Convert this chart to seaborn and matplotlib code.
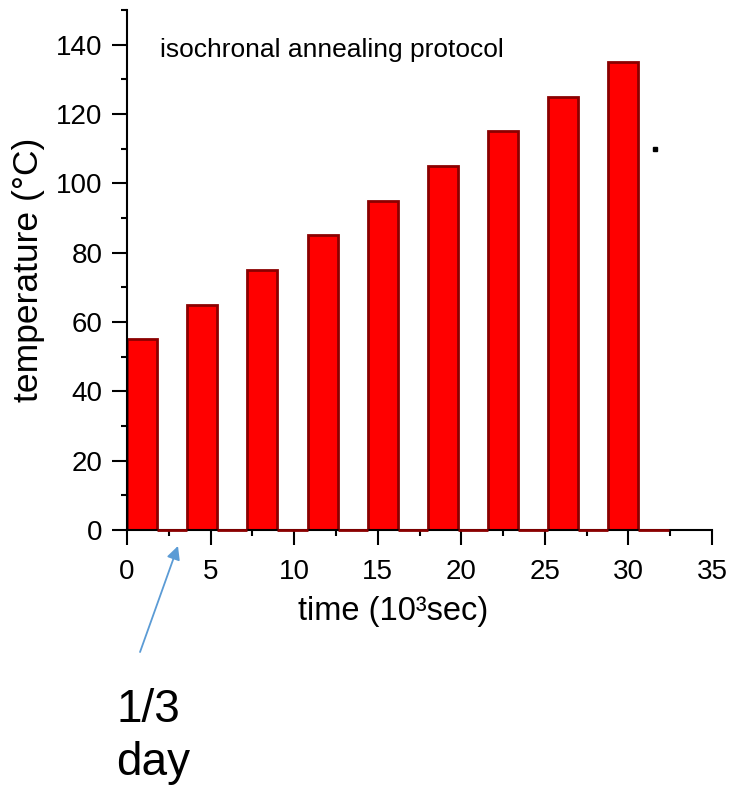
import numpy as np
import pandas as pd
import matplotlib
matplotlib.use("Agg")
import matplotlib.pyplot as plt
from matplotlib.ticker import MultipleLocator
import seaborn as sns

# ---- data ----
bin_edges = [0, 1.8, 3.6, 5.4, 7.2, 9.0, 10.8, 12.6, 14.4, 16.2, 18.0,
             19.8, 21.6, 23.4, 25.2, 27.0, 28.8, 30.6, 32.4]
temperatures = [55, 0, 65, 0, 75, 0, 85, 0, 95, 0, 105, 0, 115, 0, 125, 0, 135, 0]
x_ticks = [0, 5, 10, 15, 20, 25, 30, 35]
y_ticks = [0, 20, 40, 60, 80, 100, 120, 140]
stray_dot = (31.6, 109.8)

sns.set_theme(style="ticks")
plt.rcParams['font.family'] = ['Liberation Sans', 'DejaVu Sans']
for k in ["text.color", "axes.labelcolor", "xtick.color", "ytick.color", "axes.edgecolor"]:
    plt.rcParams[k] = "black"

centers = [(a + b) / 2 for a, b in zip(bin_edges[:-1], bin_edges[1:])]
df = pd.DataFrame({"time": centers, "temp": temperatures})

fig = plt.figure(figsize=(7.30, 7.87), dpi=100)
ax = fig.add_axes([127 / 730, 1 - 530 / 787, (712 - 127) / 730, (530 - 10) / 787])

sns.histplot(data=df, x="time", weights="temp", bins=bin_edges, ax=ax,
             color="#ff0000", alpha=1.0, edgecolor="#8b0000", linewidth=2.0,
             element="bars", stat="count")
for p in ax.patches:
    if p.get_height() == 0:
        p.set_zorder(3)
        p.set_clip_on(False)

ax.set_xlim(0, 35)
ax.set_ylim(0, 150)
ax.set_xticks(x_ticks)
ax.set_yticks(y_ticks)
ax.xaxis.set_minor_locator(MultipleLocator(2.5))
ax.yaxis.set_minor_locator(MultipleLocator(10))
ax.tick_params(axis="both", which="major", length=11, width=1.5, labelsize=20,
               direction="out")
ax.tick_params(axis="y", which="major", pad=6.5)
ax.tick_params(axis="x", which="major", pad=10)
ax.tick_params(axis="both", which="minor", length=4.5, width=1.5, direction="out")
for s in ["top", "right"]:
    ax.spines[s].set_visible(False)
for s in ["left", "bottom"]:
    ax.spines[s].set_linewidth(1.5)

ax.set_xlabel("time (10³sec)", fontsize=23.5, labelpad=8, x=0.455)
ax.set_ylabel("temperature (°C)", fontsize=25.5, labelpad=8)

ax.text(1.97, 136.5, "isochronal annealing protocol", fontsize=19, va="baseline", ha="left")
ax.plot([stray_dot[0]], [stray_dot[1]], marker="s", color="black", markersize=3.3)

ax.annotate("", xy=(3.05, -4.6), xytext=(0.78, -35.2), xycoords="data",
            textcoords="data", annotation_clip=False,
            arrowprops=dict(arrowstyle="-|>", color="#5b9bd5", lw=1.3,
                            mutation_scale=20, shrinkA=0, shrinkB=0))
fig.text(116 / 730, 1 - 688 / 787, "1/3\nday", fontsize=33, va="top", ha="left",
         linespacing=1.27)

fig.savefig("out.png", dpi=100)
